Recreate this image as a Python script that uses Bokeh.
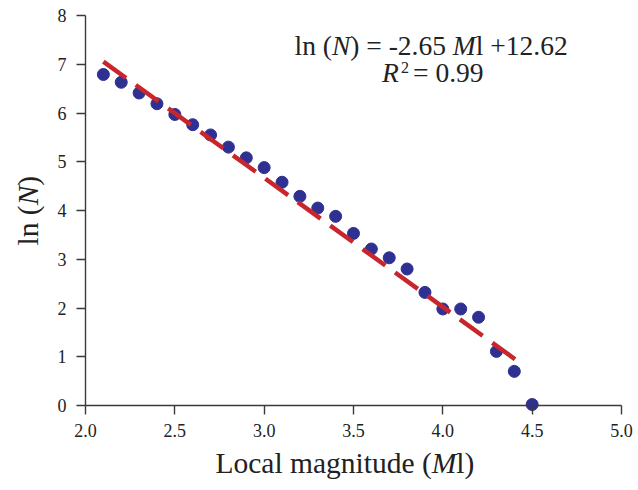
import math
from bokeh.plotting import figure
from bokeh.models import Label, FixedTicker, Range1d
from bokeh.embed import file_html
from bokeh.resources import INLINE

# ---- data ----
magnitude = [2.1, 2.2, 2.3, 2.4, 2.5, 2.6, 2.7, 2.8, 2.9, 3.0, 3.1, 3.2, 3.3,
             3.4, 3.5, 3.6, 3.7, 3.8, 3.9, 4.0, 4.1, 4.2, 4.3, 4.4, 4.5]
ln_n = [6.79, 6.63, 6.41, 6.19, 5.97, 5.76, 5.55, 5.30, 5.08, 4.88, 4.58, 4.29, 4.05,
        3.88, 3.53, 3.21, 3.03, 2.80, 2.32, 1.98, 1.98, 1.81, 1.11, 0.70, 0.02]
slope = -2.65
intercept = 12.62
r_squared = 0.99
fit_range = [2.1, 4.44]
x_ticks = [2.0, 2.5, 3.0, 3.5, 4.0, 4.5, 5.0]
x_tick_labels = ["2.0", "2.5", "3.0", "3.5", "4.0", "4.5", "5.0"]
y_ticks = [0, 1, 2, 3, 4, 5, 6, 7, 8]
x_bounds = (2.0, 5.0)
y_bounds = (0, 8)

W, H = 638, 490
# pixel placement of the axes box in the canvas
PX_LEFT, PX_RIGHT, PX_TOP, PX_BOTTOM = 85, 621, 15, 405
kx = (PX_RIGHT - PX_LEFT) / (x_bounds[1] - x_bounds[0])
ky = (PX_BOTTOM - PX_TOP) / (y_bounds[1] - y_bounds[0])
x_range = Range1d(x_bounds[0] - PX_LEFT / kx, x_bounds[1] + (W - PX_RIGHT) / kx)
y_range = Range1d(y_bounds[0] - (H - PX_BOTTOM) / ky, y_bounds[1] + PX_TOP / ky)

FONT = "Liberation Serif"
INK = "#222222"
AXIS = "#3a3a3a"

# Times / Liberation Serif advance widths (per 1000 em)
W_REG = {" ": 250, "(": 333, ")": 333, "=": 564, "-": 333, ".": 250, "+": 564,
         "l": 278, "n": 500, "L": 611, "o": 500, "c": 444, "a": 444, "m": 778,
         "g": 500, "i": 278, "t": 278, "u": 500, "d": 500, "e": 444}
W_IT = {"N": 667, "M": 833, "R": 611}


def text_width(s, italic, size):
    tbl = W_IT if italic else W_REG
    return sum(tbl.get(ch, 500) for ch in s) * size / 1000.0


DY = 11  # measured baseline correction


def add_pieces(p, pieces, cx, cy, size, vertical=False):
    pos = 0.0
    for txt, italic in pieces:
        if vertical:
            x, y, ang = cx - DY, H - cy + pos, math.pi / 2
        else:
            x, y, ang = cx + pos, H - cy + DY, 0
        p.add_layout(Label(x=x, y=y, x_units="screen", y_units="screen", text=txt,
                           angle=ang, text_font=FONT, text_font_size=f"{size}px",
                           text_font_style="italic" if italic else "normal",
                           text_color=INK, text_align="left",
                           text_baseline="alphabetic"))
        pos += text_width(txt, italic, size)


p = figure(width=W, height=H, x_range=x_range, y_range=y_range,
           output_backend="svg", toolbar_location=None,
           min_border_left=0, min_border_right=0, min_border_top=0,
           min_border_bottom=0)
p.background_fill_color = "white"
p.border_fill_color = "white"
p.outline_line_color = None
p.grid.visible = False

for ax in (p.xaxis, p.yaxis):
    ax.axis_line_color = AXIS
    ax.axis_line_width = 1.4
    ax.major_tick_line_color = AXIS
    ax.major_tick_line_width = 1.4
    ax.major_tick_out = 9
    ax.major_tick_in = 0
    ax.minor_tick_out = 0
    ax.minor_tick_in = 0
    ax.major_label_text_font = FONT
    ax.major_label_text_font_size = "18px"
    ax.major_label_text_color = INK

p.xaxis.ticker = FixedTicker(ticks=x_ticks)
p.xaxis.major_label_overrides = dict(zip(x_ticks, x_tick_labels))
p.xaxis.major_label_standoff = 9
p.xaxis.bounds = x_bounds
p.xaxis.fixed_location = y_bounds[0]
p.yaxis.ticker = FixedTicker(ticks=y_ticks)
p.yaxis.major_label_standoff = 10
p.yaxis.bounds = y_bounds
p.yaxis.fixed_location = x_bounds[0]

p.scatter(magnitude, ln_n, size=12, fill_color="#2e3192", line_color="#2e3192")
fit_y = [intercept + slope * x for x in fit_range]
p.line(fit_range, fit_y, line_color="#c8262c", line_width=4.5, line_dash="28 12")

# equation text
add_pieces(p, [("ln (", False), ("N", True), (f") = {slope:.2f} ", False),
               ("M", True), (f"l +{intercept:.2f}", False)], 294, 55.5, 27.5)
add_pieces(p, [("R", True)], 381.5, 83.3, 27.5)
add_pieces(p, [("2", False)], 400.5, 78.3, 16)
add_pieces(p, [(f"= {r_squared:.2f}", False)], 412.5, 83.3, 27.5)

# axis titles
add_pieces(p, [("Local magnitude (", False), ("M", True), ("l)", False)], 215, 473.3, 29.5)
add_pieces(p, [("ln (", False), ("N", True), (")", False)], 38.3, 245, 29.5, vertical=True)

open("out.html", "w").write(file_html(p, INLINE))
